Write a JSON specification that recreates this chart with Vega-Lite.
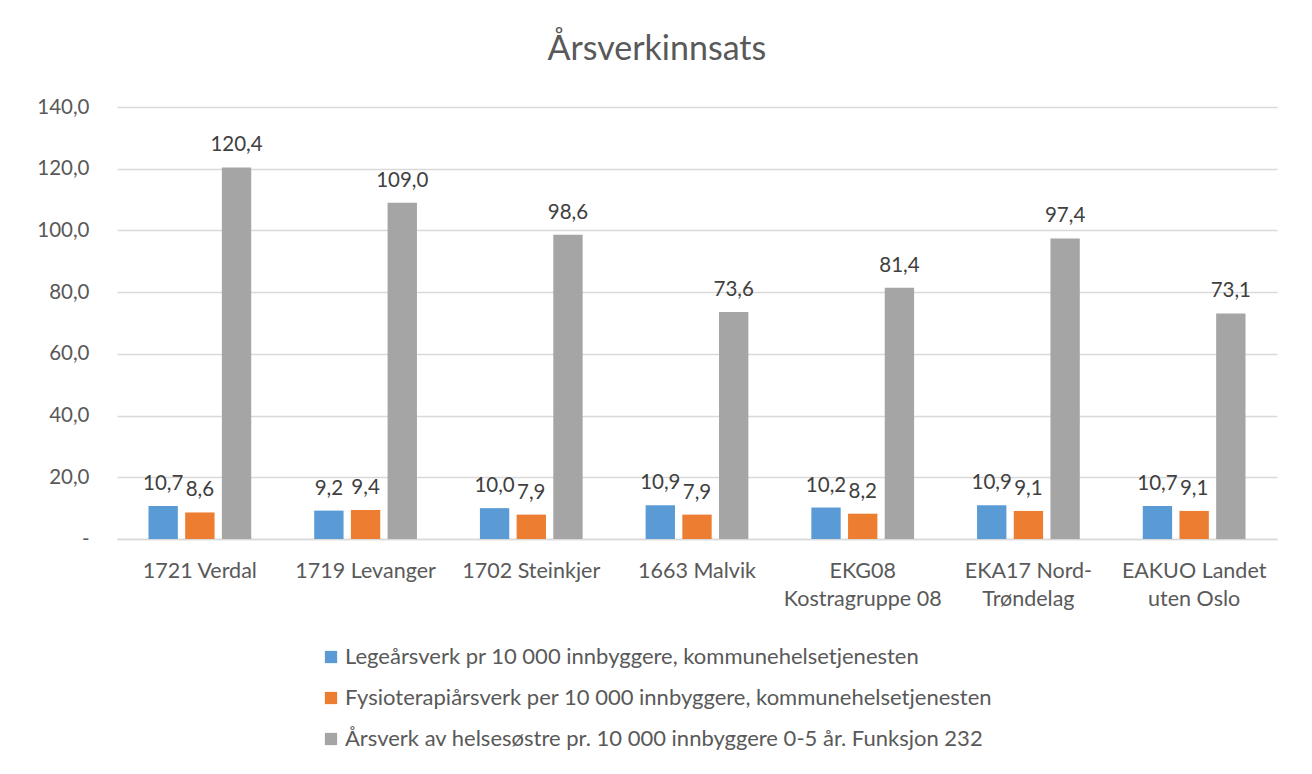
{
  "$schema": "https://vega.github.io/schema/vega-lite/v6.json",
  "width": 1160,
  "height": 432,
  "autosize": {"type": "none"},
  "padding": {"left": 117, "top": 107, "right": 35, "bottom": 235},
  "background": "white",
  "title": {
    "text": "Årsverkinnsats",
    "font": "Lato",
    "fontSize": 34,
    "fontWeight": "normal",
    "color": "#595959",
    "anchor": "middle",
    "frame": "bounds",
    "offset": 30
  },
  "config": {
    "locale": {"number": {"decimal": ",", "thousands": " ", "grouping": [3], "currency": ["", " kr"]}},
    "view": {"stroke": null},
    "font": "Lato"
  },
  "data": {
    "values": [
      {"kommune": "1721 Verdal", "serie": "Legeårsverk pr 10 000 innbyggere, kommunehelsetjenesten", "verdi": 10.7},
      {"kommune": "1721 Verdal", "serie": "Fysioterapiårsverk per 10 000 innbyggere, kommunehelsetjenesten", "verdi": 8.6},
      {"kommune": "1721 Verdal", "serie": "Årsverk av helsesøstre pr. 10 000 innbyggere 0-5 år. Funksjon 232", "verdi": 120.4},
      {"kommune": "1719 Levanger", "serie": "Legeårsverk pr 10 000 innbyggere, kommunehelsetjenesten", "verdi": 9.2},
      {"kommune": "1719 Levanger", "serie": "Fysioterapiårsverk per 10 000 innbyggere, kommunehelsetjenesten", "verdi": 9.4},
      {"kommune": "1719 Levanger", "serie": "Årsverk av helsesøstre pr. 10 000 innbyggere 0-5 år. Funksjon 232", "verdi": 109.0},
      {"kommune": "1702 Steinkjer", "serie": "Legeårsverk pr 10 000 innbyggere, kommunehelsetjenesten", "verdi": 10.0},
      {"kommune": "1702 Steinkjer", "serie": "Fysioterapiårsverk per 10 000 innbyggere, kommunehelsetjenesten", "verdi": 7.9},
      {"kommune": "1702 Steinkjer", "serie": "Årsverk av helsesøstre pr. 10 000 innbyggere 0-5 år. Funksjon 232", "verdi": 98.6},
      {"kommune": "1663 Malvik", "serie": "Legeårsverk pr 10 000 innbyggere, kommunehelsetjenesten", "verdi": 10.9},
      {"kommune": "1663 Malvik", "serie": "Fysioterapiårsverk per 10 000 innbyggere, kommunehelsetjenesten", "verdi": 7.9},
      {"kommune": "1663 Malvik", "serie": "Årsverk av helsesøstre pr. 10 000 innbyggere 0-5 år. Funksjon 232", "verdi": 73.6},
      {"kommune": "EKG08 Kostragruppe 08", "serie": "Legeårsverk pr 10 000 innbyggere, kommunehelsetjenesten", "verdi": 10.2},
      {"kommune": "EKG08 Kostragruppe 08", "serie": "Fysioterapiårsverk per 10 000 innbyggere, kommunehelsetjenesten", "verdi": 8.2},
      {"kommune": "EKG08 Kostragruppe 08", "serie": "Årsverk av helsesøstre pr. 10 000 innbyggere 0-5 år. Funksjon 232", "verdi": 81.4},
      {"kommune": "EKA17 Nord-Trøndelag", "serie": "Legeårsverk pr 10 000 innbyggere, kommunehelsetjenesten", "verdi": 10.9},
      {"kommune": "EKA17 Nord-Trøndelag", "serie": "Fysioterapiårsverk per 10 000 innbyggere, kommunehelsetjenesten", "verdi": 9.1},
      {"kommune": "EKA17 Nord-Trøndelag", "serie": "Årsverk av helsesøstre pr. 10 000 innbyggere 0-5 år. Funksjon 232", "verdi": 97.4},
      {"kommune": "EAKUO Landet uten Oslo", "serie": "Legeårsverk pr 10 000 innbyggere, kommunehelsetjenesten", "verdi": 10.7},
      {"kommune": "EAKUO Landet uten Oslo", "serie": "Fysioterapiårsverk per 10 000 innbyggere, kommunehelsetjenesten", "verdi": 9.1},
      {"kommune": "EAKUO Landet uten Oslo", "serie": "Årsverk av helsesøstre pr. 10 000 innbyggere 0-5 år. Funksjon 232", "verdi": 73.1}
    ]
  },
  "encoding": {
    "x": {
      "field": "kommune",
      "type": "nominal",
      "sort": null,
      "scale": {"paddingInner": 0.38, "paddingOuter": 0.19},
      "axis": {
        "title": null,
        "labelAngle": 0,
        "labelFont": "Lato",
        "labelFontSize": 21.5,
        "labelColor": "#595959",
        "labelPadding": 32,
        "labelLineHeight": 28,
        "labelBaseline": "middle",
        "ticks": false,
        "domainColor": "#d9d9d9",
        "domainWidth": 1.3,
        "labelExpr": "datum.value == 'EKG08 Kostragruppe 08' ? ['EKG08', 'Kostragruppe 08'] : datum.value == 'EKA17 Nord-Trøndelag' ? ['EKA17 Nord-', 'Trøndelag'] : datum.value == 'EAKUO Landet uten Oslo' ? ['EAKUO Landet', 'uten Oslo'] : datum.value"
      }
    },
    "xOffset": {
      "field": "serie",
      "type": "nominal",
      "sort": null,
      "scale": {"paddingInner": 0.2}
    },
    "y": {
      "field": "verdi",
      "type": "quantitative",
      "scale": {"domain": [0, 140], "nice": false},
      "axis": {
        "title": null,
        "values": [0, 20, 40, 60, 80, 100, 120, 140],
        "format": ".1f",
        "labelExpr": "datum.value == 0 ? '-\u00a0\u00a0\u00a0\u00a0' : datum.label",
        "labelFont": "Lato",
        "labelFontSize": 20.5,
        "labelColor": "#595959",
        "labelPadding": 28,
        "ticks": false,
        "domain": false,
        "gridColor": "#d9d9d9",
        "gridWidth": 1.3
      }
    }
  },
  "layer": [
    {
      "mark": {"type": "bar"},
      "encoding": {
        "color": {
          "field": "serie",
          "type": "nominal",
          "sort": null,
          "scale": {"range": ["#5B9BD5", "#ED7D31", "#A5A5A5"]},
          "legend": {
            "title": null,
            "orient": "none",
            "direction": "vertical",
            "legendX": 203,
            "legendY": 539,
            "symbolType": "square",
            "symbolSize": 150,
            "symbolStrokeWidth": 0,
            "labelFont": "Lato",
            "labelFontSize": 22,
            "labelColor": "#595959",
            "labelLimit": 1000,
            "labelOffset": 3,
            "rowPadding": 19
          }
        }
      }
    },
    {
      "mark": {"type": "text", "baseline": "alphabetic", "dy": -16, "font": "Lato", "fontSize": 20.5, "color": "#404040"},
      "encoding": {
        "text": {"field": "verdi", "type": "quantitative", "format": ".1f"}
      }
    }
  ]
}
